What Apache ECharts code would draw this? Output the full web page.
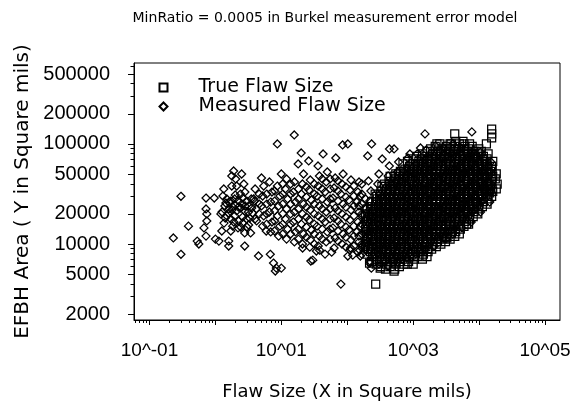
<!DOCTYPE html>
<html><head><meta charset="utf-8">
<script src="https://cdn.jsdelivr.net/npm/echarts@6/dist/echarts.min.js"></script>
<style>html,body{margin:0;padding:0;background:#fff}#c{width:580px;height:405px}</style>
</head><body><div id="c"></div>
<script>
const titleText = 'MinRatio = 0.0005 in Burkel measurement error model';
const seriesNames = ['True Flaw Size', 'Measured Flaw Size'];
const xAxisTitle = 'Flaw Size (X in Square mils)';
const yAxisTitle = 'EFBH Area ( Y in Square mils)';
const xTickValues = [0.1, 10, 1000, 100000];
const xTickLabels = ['10^-01', '10^01', '10^03', '10^05'];
const yTickValues = [2000, 5000, 10000, 20000, 50000, 100000, 200000, 500000];
const yTickLabels = ['2000', '5000', '10000', '20000', '50000', '100000', '200000', '500000'];
const xRange = [0.0582, 168700];
const yRange = [1742, 644000];

// True flaw size (squares)
const trueFlaw = [
[200,7940],[210,8910],[190,10000],[200,11200],[210,12600],[190,14100],[200,15800],[210,17800],[190,20000],[200,22400],
[234,6680],[245,7500],[225,8410],[234,9440],[245,10600],[225,11900],[234,13300],[245,15000],[225,16800],[234,18800],[245,21100],[225,23700],[234,26600],
[275,6310],[285,7080],[265,7940],[275,8910],[285,10000],[265,11200],[275,12600],[285,14100],[265,15800],[275,17800],[285,20000],[265,22400],[275,25100],[285,28200],[265,31600],
[324,5960],[335,6680],[310,7500],[324,8410],[335,9440],[310,10600],[324,11900],[335,13300],[310,15000],[324,16800],[335,18800],[310,21100],[324,23700],[335,26600],[310,29900],[324,33500],[335,37600],
[380,5620],[395,6310],[365,7080],[380,7940],[395,8910],[365,10000],[380,11200],[395,12600],[365,14100],[380,15800],[395,17800],[365,20000],[380,22400],[395,25100],[365,28200],[380,31600],[395,35500],[365,39800],
[447,5960],[460,6680],[430,7500],[447,8410],[460,9440],[430,10600],[447,11900],[460,13300],[430,15000],[447,16800],[460,18800],[430,21100],[447,23700],[460,26600],[430,29900],[447,33500],[460,37600],[430,42200],[447,47300],
[525,5620],[545,6310],[505,7080],[525,7940],[545,8910],[505,10000],[525,11200],[545,12600],[505,14100],[525,15800],[545,17800],[505,20000],[525,22400],[545,25100],[505,28200],[525,31600],[545,35500],[505,39800],[525,44700],[545,50100],
[617,5960],[640,6680],[595,7500],[617,8410],[640,9440],[595,10600],[617,11900],[640,13300],[595,15000],[617,16800],[640,18800],[595,21100],[617,23700],[640,26600],[595,29900],[617,33500],[640,37600],[595,42200],[617,47300],[640,53100],
[724,6310],[750,7080],[700,7940],[724,8910],[750,10000],[700,11200],[724,12600],[750,14100],[700,15800],[724,17800],[750,20000],[700,22400],[724,25100],[750,28200],[700,31600],[724,35500],[750,39800],[700,44700],[724,50100],[750,56200],[700,63100],
[851,6680],[880,7500],[820,8410],[851,9440],[880,10600],[820,11900],[851,13300],[880,15000],[820,16800],[851,18800],[880,21100],[820,23700],[851,26600],[880,29900],[820,33500],[851,37600],[880,42200],[820,47300],[851,53100],[880,59600],[820,66800],
[1000,6310],[1040,7080],[965,7940],[1000,8910],[1040,10000],[965,11200],[1000,12600],[1040,14100],[965,15800],[1000,17800],[1040,20000],[965,22400],[1000,25100],[1040,28200],[965,31600],[1000,35500],[1040,39800],[965,44700],[1000,50100],[1040,56200],[965,63100],[1000,70800],
[1175,7500],[1220,8410],[1130,9440],[1175,10600],[1220,11900],[1130,13300],[1175,15000],[1220,16800],[1130,18800],[1175,21100],[1220,23700],[1130,26600],[1175,29900],[1220,33500],[1130,37600],[1175,42200],[1220,47300],[1130,53100],[1175,59600],[1220,66800],[1130,75000],
[1380,7080],[1430,7940],[1330,8910],[1380,10000],[1430,11200],[1330,12600],[1380,14100],[1430,15800],[1330,17800],[1380,20000],[1430,22400],[1330,25100],[1380,28200],[1430,31600],[1330,35500],[1380,39800],[1430,44700],[1330,50100],[1380,56200],[1430,63100],[1330,70800],[1380,79400],
[1620,7500],[1680,8410],[1560,9440],[1620,10600],[1680,11900],[1560,13300],[1620,15000],[1680,16800],[1560,18800],[1620,21100],[1680,23700],[1560,26600],[1620,29900],[1680,33500],[1560,37600],[1620,42200],[1680,47300],[1560,53100],[1620,59600],[1680,66800],[1560,75000],[1620,84100],
[1905,8910],[1970,10000],[1840,11200],[1905,12600],[1970,14100],[1840,15800],[1905,17800],[1970,20000],[1840,22400],[1905,25100],[1970,28200],[1840,31600],[1905,35500],[1970,39800],[1840,44700],[1905,50100],[1970,56200],[1840,63100],[1905,70800],[1970,79400],[1840,89100],
[2240,9440],[2320,10600],[2160,11900],[2240,13300],[2320,15000],[2160,16800],[2240,18800],[2320,21100],[2160,23700],[2240,26600],[2320,29900],[2160,33500],[2240,37600],[2320,42200],[2160,47300],[2240,53100],[2320,59600],[2160,66800],[2240,75000],[2320,84100],[2160,94400],
[2630,10000],[2720,11200],[2540,12600],[2630,14100],[2720,15800],[2540,17800],[2630,20000],[2720,22400],[2540,25100],[2630,28200],[2720,31600],[2540,35500],[2630,39800],[2720,44700],[2540,50100],[2630,56200],[2720,63100],[2540,70800],[2630,79400],[2720,89100],[2540,100000],
[3090,10600],[3200,11900],[2980,13300],[3090,15000],[3200,16800],[2980,18800],[3090,21100],[3200,23700],[2980,26600],[3090,29900],[3200,33500],[2980,37600],[3090,42200],[3200,47300],[2980,53100],[3090,59600],[3200,66800],[2980,75000],[3090,84100],[3200,94400],
[3630,11200],[3760,12600],[3500,14100],[3630,15800],[3760,17800],[3500,20000],[3630,22400],[3760,25100],[3500,28200],[3630,31600],[3760,35500],[3500,39800],[3630,44700],[3760,50100],[3500,56200],[3630,63100],[3760,70800],[3500,79400],[3630,89100],[3760,100000],
[4270,11900],[4420,13300],[4120,15000],[4270,16800],[4420,18800],[4120,21100],[4270,23700],[4420,26600],[4120,29900],[4270,33500],[4420,37600],[4120,42200],[4270,47300],[4420,53100],[4120,59600],[4270,66800],[4420,75000],[4120,84100],[4270,94400],[4420,106000],
[5010,12600],[5190,14100],[4840,15800],[5010,17800],[5190,20000],[4840,22400],[5010,25100],[5190,28200],[4840,31600],[5010,35500],[5190,39800],[4840,44700],[5010,50100],[5190,56200],[4840,63100],[5010,70800],[5190,79400],[4840,89100],[5010,100000],
[5890,15000],[6100,16800],[5690,18800],[5890,21100],[6100,23700],[5690,26600],[5890,29900],[6100,33500],[5690,37600],[5890,42200],[6100,47300],[5690,53100],[5890,59600],[6100,66800],[5690,75000],[5890,84100],[6100,94400],[5690,106000],
[6920,15800],[7160,17800],[6680,20000],[6920,22400],[7160,25100],[6680,28200],[6920,31600],[7160,35500],[6680,39800],[6920,44700],[7160,50100],[6680,56200],[6920,63100],[7160,70800],[6680,79400],[6920,89100],[7160,100000],
[8130,18800],[8410,21100],[7850,23700],[8130,26600],[8410,29900],[7850,33500],[8130,37600],[8410,42200],[7850,47300],[8130,53100],[8410,59600],[7850,66800],[8130,75000],[8410,84100],[7850,94400],
[9550,20000],[9880,22400],[9220,25100],[9550,28200],[9880,31600],[9220,35500],[9550,39800],[9880,44700],[9220,50100],[9550,56200],[9880,63100],[9220,70800],[9550,79400],[9880,89100],
[11200,23700],[11600,26600],[10800,29900],[11200,33500],[11600,37600],[10800,42200],[11200,47300],[11600,53100],[10800,59600],[11200,66800],[11600,75000],[10800,84100],
[13200,25100],[13700,28200],[12700,31600],[13200,35500],[13700,39800],[12700,44700],[13200,50100],[13700,56200],[12700,63100],[13200,70800],[13700,79400],
[15500,29900],[16100,33500],[14900,37600],[15500,42200],[16100,47300],[14900,53100],[15500,59600],[16100,66800],
[18200,35500],[18800,39800],[17600,44700],[18200,50100],
[205,9440],[195,10600],[205,11900],[195,13300],[205,15000],[195,16800],[205,18800],
[240,7940],[229,8910],[240,10000],[229,11200],[240,12600],[229,14100],[240,15800],[229,17800],[240,20000],[229,22400],
[280,7500],[270,8410],[280,9440],[270,10600],[280,11900],[270,13300],[280,15000],[270,16800],[280,18800],[270,21100],[280,23700],[270,26600],[280,29900],
[330,7080],[317,7940],[330,8910],[317,10000],[330,11200],[317,12600],[330,14100],[317,15800],[330,17800],[317,20000],[330,22400],[317,25100],[330,28200],[317,31600],
[388,6680],[372,7500],[388,8410],[372,9440],[388,10600],[372,11900],[388,13300],[372,15000],[388,16800],[372,18800],[388,21100],[372,23700],[388,26600],[372,29900],[388,33500],[372,37600],
[453,7080],[438,7940],[453,8910],[438,10000],[453,11200],[438,12600],[453,14100],[438,15800],[453,17800],[438,20000],[453,22400],[438,25100],[453,28200],[438,31600],[453,35500],[438,39800],
[535,6680],[515,7500],[535,8410],[515,9440],[535,10600],[515,11900],[535,13300],[515,15000],[535,16800],[515,18800],[535,21100],[515,23700],[535,26600],[515,29900],[535,33500],[515,37600],[535,42200],[515,47300],
[628,7080],[606,7940],[628,8910],[606,10000],[628,11200],[606,12600],[628,14100],[606,15800],[628,17800],[606,20000],[628,22400],[606,25100],[628,28200],[606,31600],[628,35500],[606,39800],[628,44700],[606,50100],
[737,7500],[712,8410],[737,9440],[712,10600],[737,11900],[712,13300],[737,15000],[712,16800],[737,18800],[712,21100],[737,23700],[712,26600],[737,29900],[712,33500],[737,37600],[712,42200],[737,47300],[712,53100],
[865,7940],[836,8910],[865,10000],[836,11200],[865,12600],[836,14100],[865,15800],[836,17800],[865,20000],[836,22400],[865,25100],[836,28200],[865,31600],[836,35500],[865,39800],[836,44700],[865,50100],[836,56200],
[1020,7500],[982,8410],[1020,9440],[982,10600],[1020,11900],[982,13300],[1020,15000],[982,16800],[1020,18800],[982,21100],[1020,23700],[982,26600],[1020,29900],[982,33500],[1020,37600],[982,42200],[1020,47300],[982,53100],[1020,59600],
[1197,8910],[1152,10000],[1197,11200],[1152,12600],[1197,14100],[1152,15800],[1197,17800],[1152,20000],[1197,22400],[1152,25100],[1197,28200],[1152,31600],[1197,35500],[1152,39800],[1197,44700],[1152,50100],[1197,56200],[1152,63100],
[1405,8410],[1355,9440],[1405,10600],[1355,11900],[1405,13300],[1355,15000],[1405,16800],[1355,18800],[1405,21100],[1355,23700],[1405,26600],[1355,29900],[1405,33500],[1355,37600],[1405,42200],[1355,47300],[1405,53100],[1355,59600],[1405,66800],
[1650,8910],[1590,10000],[1650,11200],[1590,12600],[1650,14100],[1590,15800],[1650,17800],[1590,20000],[1650,22400],[1590,25100],[1650,28200],[1590,31600],[1650,35500],[1590,39800],[1650,44700],[1590,50100],[1650,56200],[1590,63100],[1650,70800],
[1937,10600],[1872,11900],[1937,13300],[1872,15000],[1937,16800],[1872,18800],[1937,21100],[1872,23700],[1937,26600],[1872,29900],[1937,33500],[1872,37600],[1937,42200],[1872,47300],[1937,53100],[1872,59600],[1937,66800],[1872,75000],
[2280,11200],[2200,12600],[2280,14100],[2200,15800],[2280,17800],[2200,20000],[2280,22400],[2200,25100],[2280,28200],[2200,31600],[2280,35500],[2200,39800],[2280,44700],[2200,50100],[2280,56200],[2200,63100],[2280,70800],[2200,79400],
[2675,11900],[2585,13300],[2675,15000],[2585,16800],[2675,18800],[2585,21100],[2675,23700],[2585,26600],[2675,29900],[2585,33500],[2675,37600],[2585,42200],[2675,47300],[2585,53100],[2675,59600],[2585,66800],[2675,75000],[2585,84100],
[3145,12600],[3035,14100],[3145,15800],[3035,17800],[3145,20000],[3035,22400],[3145,25100],[3035,28200],[3145,31600],[3035,35500],[3145,39800],[3035,44700],[3145,50100],[3035,56200],[3145,63100],[3035,70800],[3145,79400],[3035,89100],
[3695,13300],[3565,15000],[3695,16800],[3565,18800],[3695,21100],[3565,23700],[3695,26600],[3565,29900],[3695,33500],[3565,37600],[3695,42200],[3565,47300],[3695,53100],[3565,59600],[3695,66800],[3565,75000],[3695,84100],
[4345,14100],[4195,15800],[4345,17800],[4195,20000],[4345,22400],[4195,25100],[4345,28200],[4195,31600],[4345,35500],[4195,39800],[4345,44700],[4195,50100],[4345,56200],[4195,63100],[4345,70800],[4195,79400],[4345,89100],
[5100,15000],[4925,16800],[5100,18800],[4925,21100],[5100,23700],[4925,26600],[5100,29900],[4925,33500],[5100,37600],[4925,42200],[5100,47300],[4925,53100],[5100,59600],[4925,66800],[5100,75000],[4925,84100],
[5995,17800],[5790,20000],[5995,22400],[5790,25100],[5995,28200],[5790,31600],[5995,35500],[5790,39800],[5995,44700],[5790,50100],[5995,56200],[5790,63100],[5995,70800],[5790,79400],[5995,89100],
[7040,18800],[6800,21100],[7040,23700],[6800,26600],[7040,29900],[6800,33500],[7040,37600],[6800,42200],[7040,47300],[6800,53100],[7040,59600],[6800,66800],[7040,75000],[6800,84100],
[8270,22400],[7990,25100],[8270,28200],[7990,31600],[8270,35500],[7990,39800],[8270,44700],[7990,50100],[8270,56200],[7990,63100],[8270,70800],[7990,79400],
[9715,23700],[9385,26600],[9715,29900],[9385,33500],[9715,37600],[9385,42200],[9715,47300],[9385,53100],[9715,59600],[9385,66800],[9715,75000],
[11400,28200],[11000,31600],[11400,35500],[11000,39800],[11400,44700],[11000,50100],[11400,56200],[11000,63100],[11400,70800],
[13450,29900],[12950,33500],[13450,37600],[12950,42200],[13450,47300],[12950,53100],[13450,59600],[12950,66800],
[15800,35500],[15200,39800],[15800,44700],[15200,50100],[15800,56200],
[270,3980],[218,6460],[316,5750],[513,5370],[813,6310],[1380,7590],[2950,11500],[3240,11500],[6460,15800],[9120,25700],[8320,28800],[11000,40700],[14500,32400],[9770,57500],[8510,72400],[15500,141000],[15500,126000],[15500,115000],[12900,100000],[4270,126000],[2290,100000],[3630,100000],[5890,100000],[14000,34000]
];

// Measured flaw size (diamonds)
const measuredFlaw = [
[158,7590],[166,9550],[150,12000],[158,15100],[166,19100],[150,24000],[158,30200],
[219,6760],[228,8510],[210,10700],[219,13500],[228,17000],[210,21400],[219,26900],[228,33900],[210,42700],
[302,6310],[315,7940],[290,10000],[302,12600],[315,15800],[290,20000],[302,25100],[315,31600],[290,39800],[302,50100],
[417,6030],[435,7590],[400,9550],[417,12000],[435,15100],[400,19100],[417,24000],[435,30200],[400,38000],[417,47900],[435,60300],
[575,6610],[600,8320],[550,10500],[575,13200],[600,16600],[550,20900],[575,26300],[600,33100],[550,41700],[575,52500],[600,66100],
[794,7240],[830,9120],[760,11500],[794,14500],[830,18200],[760,22900],[794,28800],[830,36300],[760,45700],[794,57500],[830,72400],
[1100,7940],[1150,10000],[1050,12600],[1100,15800],[1150,20000],[1050,25100],[1100,31600],[1150,39800],[1050,50100],[1100,63100],[1150,79400],
[1510,8710],[1580,11000],[1450,13800],[1510,17400],[1580,21900],[1450,27500],[1510,34700],[1580,43700],[1450,55000],[1510,69200],[1580,87100],
[2090,9550],[2180,12000],[2000,15100],[2090,19100],[2180,24000],[2000,30200],[2090,38000],[2180,47900],[2000,60300],[2090,75900],[2180,95500],
[2880,11500],[3000,14500],[2760,18200],[2880,22900],[3000,28800],[2760,36300],[2880,45700],[3000,57500],[2760,72400],[2880,91200],
[3980,12600],[4150,15800],[3820,20000],[3980,25100],[4150,31600],[3820,39800],[3980,50100],[4150,63100],[3820,79400],[3980,100000],
[5500,14500],[5730,18200],[5280,22900],[5500,28800],[5730,36300],[5280,45700],[5500,57500],[5730,72400],[5280,91200],
[7590,16600],[7910,20900],[7290,26300],[7590,33100],[7910,41700],[7290,52500],[7590,66100],[7910,83200],
[10500,20900],[10900,26300],[10100,33100],[10500,41700],[10900,52500],[10100,66100],[10500,83200],
[14500,26300],[15100,33100],[13900,41700],[14500,52500],[15100,66100],
[4.0,17800],[4.2,22400],[3.8,28200],[4.0,35500],
[5.2,15100],[5.4,19100],[5.0,24000],[5.2,30200],[5.4,38000],
[6.9,13200],[7.2,16600],[6.6,20900],[6.9,26300],[7.2,33100],[6.6,41700],
[9.1,12000],[9.5,15100],[8.7,19100],[9.1,24000],[9.5,30200],[8.7,38000],
[12,11200],[12.5,14100],[11.5,17800],[12,22400],[12.5,28200],[11.5,35500],[12,44700],
[15.8,10500],[16.4,13200],[15.2,16600],[15.8,20900],[16.4,26300],[15.2,33100],[15.8,41700],
[20.9,10000],[21.7,12600],[20.1,15800],[20.9,20000],[21.7,25100],[20.1,31600],[20.9,39800],[21.7,50100],
[27.5,11000],[28.6,13800],[26.4,17400],[27.5,21900],[28.6,27500],[26.4,34700],[27.5,43700],
[36.3,9550],[37.8,12000],[34.8,15100],[36.3,19100],[37.8,24000],[34.8,30200],[36.3,38000],[37.8,47900],
[47.9,10500],[49.8,13200],[46,16600],[47.9,20900],[49.8,26300],[46,33100],[47.9,41700],[49.8,52500],
[63.1,9120],[65.6,11500],[60.6,14500],[63.1,18200],[65.6,22900],[60.6,28800],[63.1,36300],[65.6,45700],
[83.2,10000],[86.5,12600],[79.9,15800],[83.2,20000],[86.5,25100],[79.9,31600],[83.2,39800],[86.5,50100],
[110,8710],[114,11000],[106,13800],[110,17400],[114,21900],[106,27500],[110,34700],[114,43700],
[145,8320],[151,10500],[139,13200],[145,16600],[151,20900],[139,26300],[145,33100],[151,41700],
[4.6,20000],[4.6,25100],[4.6,31600],
[7.9,13500],[7.9,17000],[7.9,21400],[7.9,26900],[7.9,33900],
[13.8,12600],[13.8,15800],[13.8,20000],[13.8,25100],[13.8,31600],[13.8,39800],
[24,11700],[24,14800],[24,18600],[24,23400],[24,29500],[24,37200],
[41.7,11200],[41.7,14100],[41.7,17800],[41.7,22400],[41.7,28200],[41.7,35500],[41.7,44700],
[72.4,10700],[72.4,13500],[72.4,17000],[72.4,21400],[72.4,26900],[72.4,33900],[72.4,42700],
[126,9550],[126,12000],[126,15100],[126,19100],[126,24000],[126,30200],[126,38000],
[6.0,15800],[6.0,20000],[6.0,25100],[6.0,31600],
[10.5,12600],[10.5,15800],[10.5,20000],[10.5,25100],[10.5,31600],[10.5,39800],
[18.2,11200],[18.2,14100],[18.2,17800],[18.2,22400],[18.2,28200],[18.2,35500],
[31.6,10000],[31.6,12600],[31.6,15800],[31.6,20000],[31.6,25100],[31.6,31600],[31.6,39800],
[55,11200],[55,14100],[55,17800],[55,22400],[55,28200],[55,35500],[55,44700],
[95.5,9330],[95.5,11700],[95.5,14800],[95.5,18600],[95.5,23400],[95.5,29500],[95.5,37200],
[166,7940],[166,10000],[166,12600],[166,15800],[166,20000],[166,25100],[166,31600],[166,39800],
[190,8910],[190,11200],[190,14100],[190,17800],[190,22400],[190,28200],
[1.30,30200],[1.49,28200],[1.71,26900],[1.96,28200],[2.25,26900],[2.59,28800],[2.98,26900],[1.39,24000],[1.60,22400],[1.83,23400],[2.10,21400],[2.42,22900],[2.78,21400],[3.19,24000],[1.49,19100],[1.71,17800],[1.96,19100],[2.25,17000],[2.59,18600],[2.98,17800],[1.35,16200],[1.83,15100],[2.42,14800],[3.19,15500],[3.66,20400],[3.93,26900],[4.21,17000],[3.42,12900],[2.78,12900],
[1.26,20900],[1.41,18200],[1.58,20400],[1.78,21900],[2.0,24500],[2.24,23400],[2.51,25100],[2.82,24000],[3.16,20900],[3.55,22900],[1.6,26300],[2.0,30900],[2.4,31600],[1.9,16600],[2.2,14500],[2.6,16200],[3.0,14800],[3.3,18200],[2.8,33100],[3.5,28200],
[0.30,30000],[0.23,11500],[0.30,7900],[0.39,15100],[0.53,10700],[0.56,10000],[0.72,28800],[0.96,28800],[0.72,22400],[0.74,20000],[0.74,17000],[0.67,14500],[0.72,12000],[1.0,11200],[1.13,10700],[1.25,13500],[1.34,35500],[1.21,20000],[1.59,10700],[1.59,9550],[1.71,13500],[1.44,25700],[1.89,53700],[1.77,47900],[2.03,44700],[2.5,50100],[2.78,9550],[1.77,38000],[2.1,38000],[2.7,39800],
[4.5,7600],[6.8,7900],[7.6,6460],[8.4,5750],[8.1,5370],[10,5750],[5.9,13500],[5.0,45700],[8.7,100000],[15.7,123000],[10,50100],[20,81300],[18,63100],[26,67600],[36,60300],[43,79400],[67,72400],[85,97700],[80,3980],[21,9120],[28,6760],[34,8510],[46,7940],[102,7590],[112,9120],[234,100000],[204,75900],[339,70800],[437,89100],[513,89100],[891,79400],[1290,91200],[1510,126000],[7760,132000],[102,100000],
[27,9310],[30,6900],[38,8690],[58,8300],[121,7740],[155,8690],[184,10200],[219,6440],[232,5740]
];

const L = Math.log10;
const near = (a, b) => Math.abs(a - b) < 1e-6;

// tick positions (axis construction)
const xMajor = [], xMinor = [], yMinor = [];
for (let k = -2; k <= 5; k++) {
  for (let m = 1; m <= 9; m++) {
    const v = m * Math.pow(10, k);
    if (v < xRange[0] || v > xRange[1]) continue;
    if (m === 1) xMajor.push(L(v)); else xMinor.push(L(v));
  }
}
for (let k = 3; k <= 5; k++) {
  for (let m = 1; m <= 9; m++) {
    const v = m * Math.pow(10, k);
    if (v < yRange[0] || v > yRange[1]) continue;
    if (yTickValues.indexOf(v) < 0) yMinor.push(L(v));
  }
}

const xLab = v => { for (let i = 0; i < xTickValues.length; i++) if (near(L(xTickValues[i]), v)) return xTickLabels[i]; return ''; };
const yLab = v => { for (let i = 0; i < yTickValues.length; i++) if (near(L(yTickValues[i]), v)) return yTickLabels[i]; return ''; };

const tickFont = 'Liberation Sans, Arial, sans-serif';
const textFont = 'DejaVu Sans, sans-serif';
const axisBase = (mn, mx) => ({ type: 'value', min: L(mn), max: L(mx), splitLine: { show: false }, gridIndex: 0 });

const chart = echarts.init(document.getElementById('c'), null, { renderer: 'canvas' });
chart.setOption({
  animation: false,
  backgroundColor: '#fff',
  graphic: [{
    type: 'text', x: 325, y: 18,
    style: { text: titleText, fill: '#000', font: '14px ' + textFont, textAlign: 'center', textVerticalAlign: 'middle' }
  }],
  grid: { left: 134, right: 20, top: 63, bottom: 85, show: true, borderColor: '#000', borderWidth: 1, containLabel: false, outerBoundsMode: 'none' },
  legend: {
    orient: 'vertical', left: 158.5, top: 78, padding: 0, itemGap: 0,
    itemWidth: 8, itemHeight: 8, data: seriesNames, selectedMode: false,
    textStyle: { fontFamily: textFont, fontSize: 19, color: '#000', lineHeight: 14, padding: [0, 0, 0, 26] }
  },
  xAxis: [
    Object.assign(axisBase(xRange[0], xRange[1]), {
      position: 'bottom',
      axisLine: { show: true, onZero: false, lineStyle: { color: '#000', width: 1 } },
      axisTick: { show: true, customValues: xMajor, length: 5, lineStyle: { color: '#000' } },
      axisLabel: { show: true, customValues: xTickValues.map(L), formatter: xLab, margin: 21, color: '#000', fontFamily: tickFont, fontSize: 19 },
      name: xAxisTitle, nameLocation: 'middle', nameGap: 63,
      nameTextStyle: { fontFamily: textFont, fontSize: 18, color: '#000' }
    }),
    Object.assign(axisBase(xRange[0], xRange[1]), {
      position: 'bottom',
      axisLine: { show: false, onZero: false },
      axisTick: { show: true, customValues: xMinor, length: 3, lineStyle: { color: '#000' } },
      axisLabel: { show: false }
    })
  ],
  yAxis: [
    Object.assign(axisBase(yRange[0], yRange[1]), {
      position: 'left',
      axisLine: { show: true, onZero: false, lineStyle: { color: '#000', width: 1 } },
      axisTick: { show: true, customValues: yTickValues.map(L), length: 6, lineStyle: { color: '#000' } },
      axisLabel: { show: true, customValues: yTickValues.map(L), formatter: yLab, margin: 24, color: '#000', fontFamily: tickFont, fontSize: 20 },
      name: yAxisTitle, nameLocation: 'middle', nameGap: 100,
      nameTextStyle: { fontFamily: textFont, fontSize: 20, color: '#000' }
    }),
    Object.assign(axisBase(yRange[0], yRange[1]), {
      position: 'left',
      axisLine: { show: false, onZero: false },
      axisTick: { show: true, customValues: yMinor, length: 3.5, lineStyle: { color: '#000' } },
      axisLabel: { show: false }
    })
  ],
  series: [
    {
      type: 'scatter', name: seriesNames[0], xAxisIndex: 0, yAxisIndex: 0,
      symbol: 'rect', symbolSize: 8, silent: true,
      itemStyle: { color: 'rgba(0,0,0,0)', borderColor: '#000', borderWidth: 1.25, opacity: 1 },
      data: trueFlaw.map(p => [L(p[0]), L(p[1])])
    },
    {
      type: 'scatter', name: seriesNames[1], xAxisIndex: 0, yAxisIndex: 0,
      symbol: 'diamond', symbolSize: 8, silent: true,
      itemStyle: { color: 'rgba(0,0,0,0)', borderColor: '#000', borderWidth: 1.25, opacity: 1 },
      data: measuredFlaw.map(p => [L(p[0]), L(p[1])])
    }
  ]
});
</script></body></html>
